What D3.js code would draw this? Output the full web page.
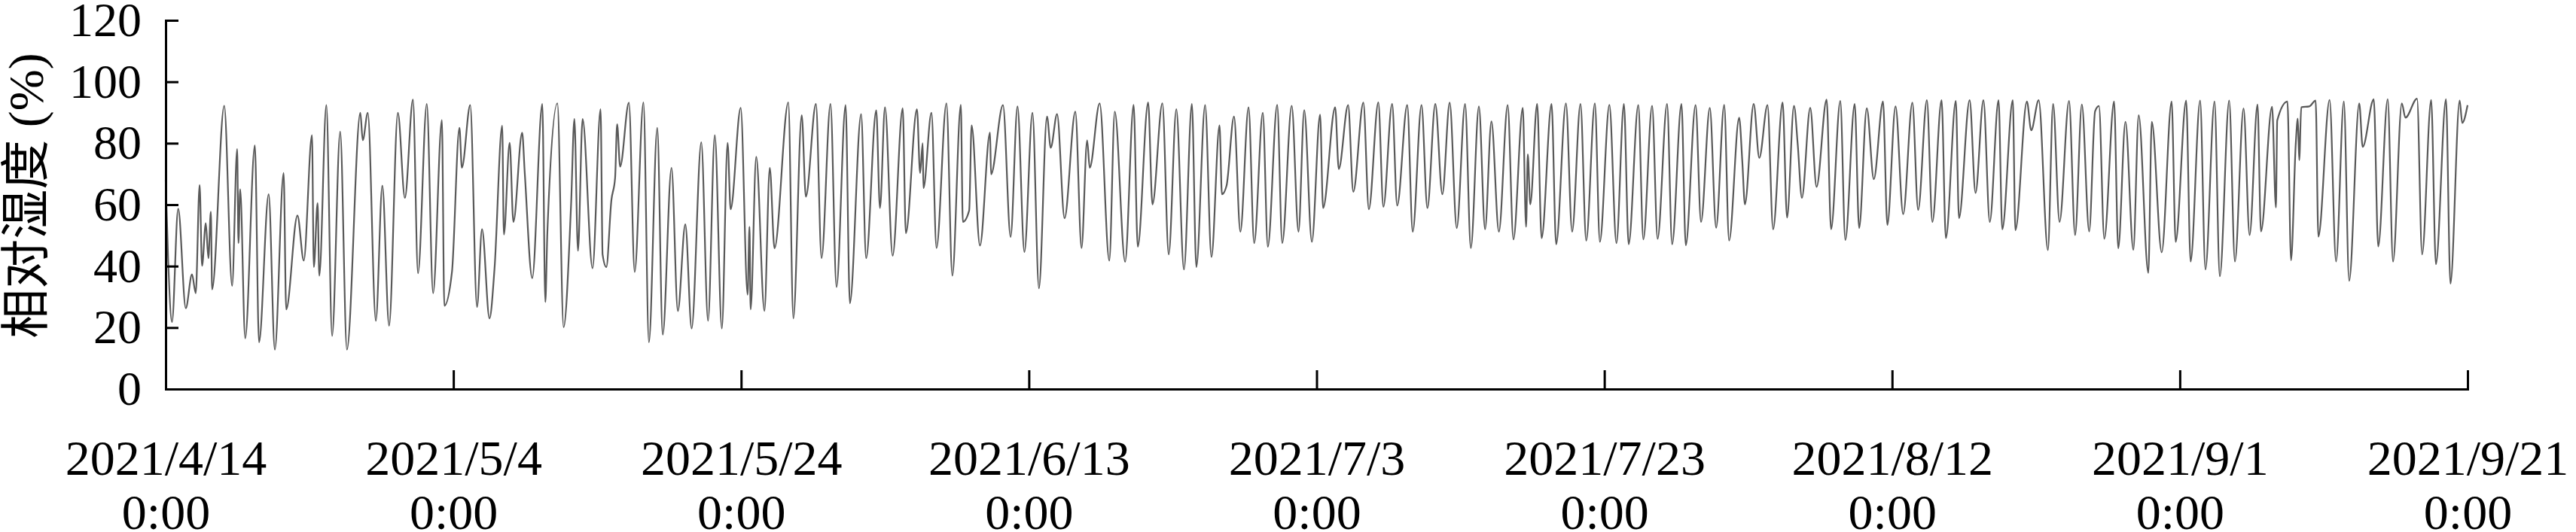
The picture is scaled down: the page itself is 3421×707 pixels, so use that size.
<!DOCTYPE html>
<html>
<head>
<meta charset="utf-8">
<script src="https://cdn.jsdelivr.net/npm/d3@7"></script>
<style>
  body { margin: 0; background: #fff; }
</style>
</head>
<body>
<svg id="chart" width="3421" height="707"></svg>
<script>
// turning points: [days since 2021/4/14 0:00, RH %]
var aprilPts = [
  [0,68],[0.17,42.6],[0.44,21.8],[0.87,58.7],[1.40,26.3],[1.83,37.3],[2.09,31.2],[2.36,66.4],
  [2.53,40.1],[2.79,54],[2.97,42.6],[3.14,57.7],[3.23,32.4],[4.07,92.2],[4.62,33.6],[4.97,78.1],
  [5.06,47.5],[5.18,65],[5.53,16.5],[6.20,79.3],[6.49,15.2],[7.16,63.4],[7.59,12.8],[8.20,70.3],
  [8.38,25.9],[9.16,56.5],[9.60,41.8],[10.17,82.6],[10.30,39.7],[10.56,60.5],[10.68,36.9],
  [11.17,92.4],[11.57,17.3],[12.13,83.8],[12.60,12.8],[13.53,89.9],[13.70,81],[14.05,89.9],
  [14.61,22.2],[15.06,66.2],[15.53,20.6],[16.14,89.9],[16.63,62.2]
];
var mayPts = [
  [17.19,94.2],[17.54,37.7],[18.15,92.8],[18.59,31.2],[19.20,87.5],[19.37,27.1],[19.90,38.1],
  [20.42,85.0],[20.59,72],[21.17,92.4],[21.64,26.7],[21.99,52.0],[22.51,23.0],[22.86,39.3],
  [23.39,85.7],[23.51,50.3],[23.91,80.1],[24.17,54.4],[24.78,83.4],[24.96,70.3],[25.48,36.1],
  [26.18,92.8],[26.39,28.3],[26.53,50.7],[27.23,93.0],[27.66,20.1],[28.18,60.1],[28.41,87.9],
  [28.66,45.0],[28.98,87.9],[29.67,39.3],[30.23,91.1],[30.37,43.8],[30.63,39.7],[30.98,61.4],
  [31.24,68.7],[31.38,86.2],[31.59,72.4],[32.20,93.2],[32.60,38.1],[33.21,93.3],[33.59,15.2],
  [34.17,85.0],[34.55,17.7],[35.16,72.0],[35.60,25.4],[36.12,53.6],[36.56,19.7],[37.23,80.3],
  [37.70,22.2],[38.17,82.6],[38.66,19.7],[39.06,80.1],[39.27,58.5],[39.97,91.5],[40.45,30.7],
  [40.58,52.8],[40.66,25.9],[41.05,75.6],[41.62,25.4],[41.99,72.0],[42.32,45.8],[43.28,93.3],
  [43.63,23.0],[44.21,89.1],[44.50,62.6],[45.20,92.8],[45.59,42.6],[46.21,92.8],[46.63,33.2],
  [47.26,92.4],[47.56,27.9]
];
var junePts = [
  [48.34,89.5],[48.69,42.6],[49.39,90.7],[49.65,58.9],[50.00,91.7],[50.53,43.4],[51.23,91.4],
  [51.45,50.7],[52.22,91.1],[52.44,70.3],[52.62,80],[52.67,65.4],[53.23,89.9],[53.58,45.9],
  [54.27,93.0],[54.68,36.9],[55.27,92.5],[55.41,54.4],[55.85,58.1],[56.02,85.8],[56.60,46.7],
  [57.30,83.5],[57.37,69.9],[58.20,92.4],[58.73,49.5],[59.21,92.0],[59.69,44.6],[60.25,89.9],
  [60.70,32.8],[61.26,88.7],[61.52,78.5],[61.96,89.5],[62.48,55.6],[63.23,90.3],[63.66,45.9],
  [64.05,80.9],[64.23,72],[64.92,93.0],[65.59,41.8],[65.97,90.3],[66.69,41.4],[67.28,92.5],
  [67.57,46.3],[68.29,93.3],[68.59,60.1],[69.28,93.0],[69.72,43.8],[70.25,91.1],[70.78,38.9],
  [71.33,92.8],[71.64,39.7],[72.25,92.4],[72.69,43.0],[73.25,85.8],[73.42,63.4],[73.74,66.2],
  [74.26,88.7],[74.70,51.2],[75.27,91.7],[75.66,47.5],[76.26,89.9],[76.61,46.3],[77.26,92.5],
  [77.61,47.5]
];
var julyPts = [
  [78.27,92.2],[78.74,51.2],[79.14,90.8],[79.67,47.9],[80.24,89.3],[80.45,58.9],[81.29,91.7],
  [81.54,71.6],[82.19,92.4],[82.55,64.2],[83.25,93.2],[83.63,58.5],[84.29,93.3],[84.64,59.3],
  [85.25,92.8],[85.60,59.7],[86.30,92.4],[86.68,51.2],[87.29,92.4],[87.70,58.9],[88.25,92.8],
  [88.74,63.4],[89.25,93.2],[89.74,52.4],[90.32,92.8],[90.72,45.9],[91.28,92.0],[91.71,52.0],
  [92.15,87.1],[92.67,51.2],[93.28,92.4],[93.68,48.7],[94.33,91.5],[94.56,52.8],[94.68,76.4],
  [94.85,60.1],[95.33,92.8],[95.64,49.1],[96.33,92.8],[96.65,47.1],[97.33,93.0],[97.76,51.2],
  [98.34,92.8],[98.74,48.3],[99.34,93.0],[99.69,47.9],[100.35,92.5],[100.84,47.5],[101.36,92.8],
  [101.69,47.1],[102.36,92.4],[102.71,48.7],[103.32,92.2],[103.70,48.9],[104.36,92.8],
  [104.71,47.1],[105.36,92.8],[105.66,46.8],[106.34,92.4],[106.72,54.4],[107.33,91.5],
  [107.77,52.5],[108.33,92.5],[108.67,48.3]
];
var augustPts = [
  [109.37,88.3],[109.59,74.0],[109.77,60.1],[110.38,92.8],[110.77,75.2],[111.34,92.4],
  [111.73,52.0],[112.39,93.3],[112.70,55.8],[113.18,92.2],[113.44,79.7],[113.73,62.2],
  [114.31,91.5],[114.75,65.8],[115.45,94.2],[115.76,52.0],[116.40,93.8],[116.75,48.5],
  [117.40,92.8],[117.71,52.4],[118.24,91.4],[118.73,68.3],[119.37,93.6],[119.67,53.4],
  [120.24,92.0],[120.77,56.9],[121.41,93.2],[121.81,58.3],[122.42,94.0],[122.80,54.4],
  [123.44,94.0],[123.74,49.1],[124.43,93.8],[124.65,55.6],[125.39,94.0],[125.80,63.8],
  [126.35,94.0],[126.79,54.4],[127.40,94.0],[127.66,52.0],[128.39,94.0],[128.57,51.7],
  [129.37,93.6],[129.67,84.2],[130.19,94.0],[130.83,45.2],[131.19,92.8],[131.64,54.4],
  [132.30,93.8],[132.72,50.1],[133.19,92.6],[133.70,51.3],[134.11,90.4],[134.38,92.1],
  [134.75,48.9],[135.43,93.6],[135.72,45.8],[136.22,87.0],[136.77,45.3],[137.14,89.1],
  [137.81,37.8],[138.05,87.0],[138.74,44.5],[139.43,93.6],[139.71,47.9]
];
var septemberPts = [
  [140.44,93.9],[140.75,41.5],[141.41,93.9],[141.78,38.9],[142.41,93.6],[142.78,36.7],
  [143.43,93.9],[143.83,41.5],[144.43,91.3],[144.85,50.1],[145.40,92.6],[145.64,51.3],
  [146.41,91.9],[146.68,59.1],[146.77,87.4],[147.48,93.6],[147.73,41.9],[148.06,80],
  [148.20,88],[148.30,74.5],[148.44,91.7],[149.0,92],[149.44,93.9],[149.63,49.6],
  [150.41,94.1],[150.86,41.5],[151.40,93.6],[151.77,35.2],[152.47,93.0],[152.71,78.8],
  [153.48,94.3],[153.79,46.4],[154.45,94.3],[154.82,41.5],[155.43,93.0],[155.68,88.3],
  [156.49,94.5],[156.84,43.8],[157.47,94.1],[157.80,40.6],[158.50,94.3],[158.81,34.3],
  [159.45,93.9],[159.63,86.6],[160.0,92.4]
];

var tickDates = ['2021/4/14','2021/5/4','2021/5/24','2021/6/13','2021/7/3',
                 '2021/7/23','2021/8/12','2021/9/1','2021/9/21'];
var yTicks = [0, 20, 40, 60, 80, 100, 120];
var yTitle = '相对湿度 (%)';

var serif = "'Liberation Serif', 'Times New Roman', 'Noto Sans CJK SC', serif";
var parse = d3.timeParse('%Y/%m/%d');
var fmtDay = d3.timeFormat('%Y/%-m/%-d');
var fmtTime = d3.timeFormat('%-H:%M');
var start = parse(tickDates[0]);
function toDate(d) { return new Date(start.getTime() + d * 864e5); }

var series = [].concat(aprilPts, mayPts, junePts, julyPts, augustPts, septemberPts)
  .map(function (p) { return { date: toDate(p[0]), rh: p[1] }; });

var svg = d3.select('#chart');
svg.append('rect').attr('width', 3421).attr('height', 707).attr('fill', '#fff');

var ticks = tickDates.map(parse);
var x = d3.scaleTime().domain([ticks[0], ticks[ticks.length - 1]]).range([220, 3277]);
var y = d3.scaleLinear().domain([0, 120]).range([517, 27]);

// the line, smoothed so the night plateaus come out rounded
var line = d3.line()
  .curve(d3.curveMonotoneX)
  .x(function (d) { return x(d.date); })
  .y(function (d) { return y(d.rh); });
svg.append('path')
  .datum(series)
  .attr('d', line)
  .attr('fill', 'none')
  .attr('stroke', '#595959')
  .attr('stroke-width', 2.2)
  .attr('stroke-linejoin', 'round');

// y axis
var gy = svg.append('g')
  .attr('transform', 'translate(220,0)')
  .call(d3.axisLeft(y).tickValues(yTicks).tickSizeInner(-17).tickSizeOuter(0).tickPadding(32));
gy.select('.domain').attr('stroke', '#000').attr('stroke-width', 3).attr('stroke-linecap', 'square');
gy.selectAll('.tick line').attr('stroke', '#000').attr('stroke-width', 3);
gy.selectAll('.tick text')
  .attr('fill', '#000')
  .attr('font-family', serif)
  .attr('font-size', 64);

// x axis
var gx = svg.append('g')
  .attr('transform', 'translate(0,517)')
  .call(d3.axisBottom(x).tickValues(ticks).tickSizeInner(-25).tickSizeOuter(0).tickFormat(''));
gx.select('.domain').attr('stroke', '#000').attr('stroke-width', 3).attr('stroke-linecap', 'square');
gx.selectAll('.tick line').attr('stroke', '#000').attr('stroke-width', 3);
gx.selectAll('.tick text').remove();
gx.selectAll('.tick').append('text')
  .attr('fill', '#000')
  .attr('text-anchor', 'middle')
  .attr('font-family', serif)
  .attr('font-size', 66)
  .each(function (d) {
    var t = d3.select(this);
    t.append('tspan').attr('x', 0).attr('y', 114).text(fmtDay(d));
    t.append('tspan').attr('x', 0).attr('y', 186).text(fmtTime(d));
  });

// y title
svg.append('text')
  .attr('transform', 'translate(34,260) rotate(-90)')
  .attr('text-anchor', 'middle')
  .attr('dominant-baseline', 'central')
  .attr('font-family', serif)
  .attr('font-size', 66)
  .attr('fill', '#000')
  .text(yTitle);
</script>
</body>
</html>
